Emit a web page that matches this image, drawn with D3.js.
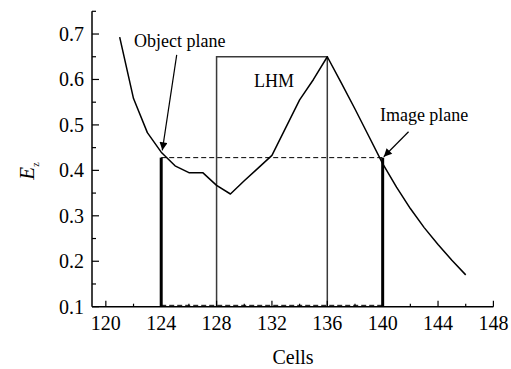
<!DOCTYPE html>
<html>
<head>
<meta charset="utf-8">
<script src="https://cdn.jsdelivr.net/npm/d3@7"></script>
</head>
<body style="margin:0;background:#fff">
<svg id="chart" width="511" height="369"></svg>
<script>
// Field amplitude E_z along the cell index
const cells = [121, 122, 123, 124, 125, 126, 127, 128, 129, 130, 131, 132, 133, 134, 135, 136, 137, 138, 139, 140, 141, 142, 143, 144, 145, 146];
const ez    = [0.693, 0.558, 0.483, 0.440, 0.410, 0.395, 0.395, 0.367, 0.348, 0.377, 0.405, 0.433, 0.494, 0.555, 0.600, 0.650, 0.593, 0.535, 0.475, 0.415, 0.363, 0.316, 0.274, 0.237, 0.202, 0.170];

// Left-handed medium slab and the two planes
const lhmRange = [128, 136];
const lhmTop = 0.65;
const objectPlane = 124;
const imagePlane = 140;
const focusLevel = 0.428;
const baseLevel = 0.103;

// Axis ticks
const xTicks = [120, 124, 128, 132, 136, 140, 144, 148];
const xMinor = [122, 126, 130, 134, 138, 142, 146];
const yTicks = [0.1, 0.2, 0.3, 0.4, 0.5, 0.6, 0.7];
const yMinor = [0.15, 0.25, 0.35, 0.45, 0.55, 0.65, 0.75];

// Annotations: [text, x, y] and arrows: [x1, y1, x2, y2]
const labels = [
  ["Object plane", 122.04, 0.672],
  ["LHM", 130.7, 0.583],
  ["Image plane", 139.8, 0.509]
];
const arrows = [
  [125.12, 0.654, 124.08, 0.444],
  [141.87, 0.485, 140.08, 0.430]
];

const FONT = "\"Liberation Serif\"";
const svg = d3.select("#chart").style("display", "block").style("font-family", FONT);
const x = d3.scaleLinear().domain([119, 148]).range([92, 493.4]);
const y = d3.scaleLinear().domain([0.1, 0.75]).range([306.7, 11.3]);

// Text helper so every label gets the serif face explicitly
function label(sel, size) {
  return sel.attr("font-size", size)
    .attr("font-family", "Liberation Serif")
    .style("font-family", FONT)
    .style("font-size", size + "px");
}

svg.append("defs").append("marker")
  .attr("id", "head")
  .attr("viewBox", "0 0 10 10")
  .attr("refX", 10).attr("refY", 5)
  .attr("markerWidth", 9).attr("markerHeight", 8)
  .attr("markerUnits", "userSpaceOnUse")
  .attr("orient", "auto")
  .append("path").attr("d", "M0,0 L10,5 L0,10 Z").attr("fill", "#000");

// LHM slab outline
svg.append("path")
  .attr("d", `M${x(lhmRange[0])},${y(0.1)} L${x(lhmRange[0])},${y(lhmTop)} L${x(lhmRange[1])},${y(lhmTop)} L${x(lhmRange[1])},${y(0.1)}`)
  .attr("fill", "none").attr("stroke", "#3a3a3a").attr("stroke-width", 1.5);

// Dashed guides
[focusLevel, baseLevel].forEach(v => {
  svg.append("line")
    .attr("x1", x(objectPlane)).attr("x2", x(imagePlane))
    .attr("y1", y(v)).attr("y2", y(v))
    .attr("stroke", "#000").attr("stroke-width", 1)
    .attr("stroke-dasharray", "5,3");
});

// Object and image planes
[objectPlane, imagePlane].forEach(c => {
  svg.append("line")
    .attr("x1", x(c)).attr("x2", x(c))
    .attr("y1", y(0.1)).attr("y2", y(focusLevel))
    .attr("stroke", "#000").attr("stroke-width", 3);
});

// Field curve
const line = d3.line().x((d, i) => x(cells[i])).y(d => y(d));
svg.append("path")
  .attr("d", line(ez))
  .attr("fill", "none").attr("stroke", "#000").attr("stroke-width", 1.5)
  .attr("stroke-linejoin", "round");

// Axes
const xAxis = svg.append("g").attr("transform", `translate(0,${y(0.1)})`);
xAxis.append("line").attr("x1", x(119)).attr("x2", x(148)).attr("stroke", "#000").attr("stroke-width", 1.5);
xAxis.selectAll(".maj").data(xTicks).join("line")
  .attr("x1", d => x(d)).attr("x2", d => x(d)).attr("y1", 0).attr("y2", -6)
  .attr("stroke", "#000").attr("stroke-width", 1.2);
xAxis.selectAll(".min").data(xMinor).join("line")
  .attr("x1", d => x(d)).attr("x2", d => x(d)).attr("y1", 0).attr("y2", -3)
  .attr("stroke", "#000").attr("stroke-width", 1.2);
label(xAxis.selectAll("text").data(xTicks).join("text")
  .attr("x", d => x(d)).attr("y", 23)
  .attr("text-anchor", "middle"), 20)
  .text(d => d);

const yAxis = svg.append("g").attr("transform", `translate(${x(119)},0)`);
yAxis.append("line").attr("y1", y(0.1)).attr("y2", y(0.75)).attr("stroke", "#000").attr("stroke-width", 1.5);
yAxis.selectAll(".maj").data(yTicks).join("line")
  .attr("y1", d => y(d)).attr("y2", d => y(d)).attr("x1", 0).attr("x2", 7)
  .attr("stroke", "#000").attr("stroke-width", 1.2);
yAxis.selectAll(".min").data(yMinor).join("line")
  .attr("y1", d => y(d)).attr("y2", d => y(d)).attr("x1", 0).attr("x2", 4)
  .attr("stroke", "#000").attr("stroke-width", 1.2);
label(yAxis.selectAll("text").data(yTicks).join("text")
  .attr("x", -8).attr("y", d => y(d)).attr("dy", "0.34em")
  .attr("text-anchor", "end"), 20)
  .text(d => d.toFixed(1));

// Axis titles
label(svg.append("text")
  .attr("x", 293).attr("y", 364)
  .attr("text-anchor", "middle"), 20)
  .text("Cells");
const yt = label(svg.append("text")
  .attr("transform", "translate(34,171) rotate(-90)")
  .attr("text-anchor", "middle"), 21);
yt.append("tspan").attr("font-style", "italic").text("E");
yt.append("tspan").attr("font-size", 10).style("font-size", "10px").attr("dy", 5).text("z");

// Annotations
label(svg.selectAll(".lab").data(labels).join("text")
  .attr("x", d => x(d[1])).attr("y", d => y(d[2])), 18)
  .text(d => d[0]);
svg.selectAll(".arr").data(arrows).join("line")
  .attr("x1", d => x(d[0])).attr("y1", d => y(d[1]))
  .attr("x2", d => x(d[2])).attr("y2", d => y(d[3]))
  .attr("stroke", "#000").attr("stroke-width", 1.2)
  .attr("marker-end", "url(#head)");
</script>
</body>
</html>
